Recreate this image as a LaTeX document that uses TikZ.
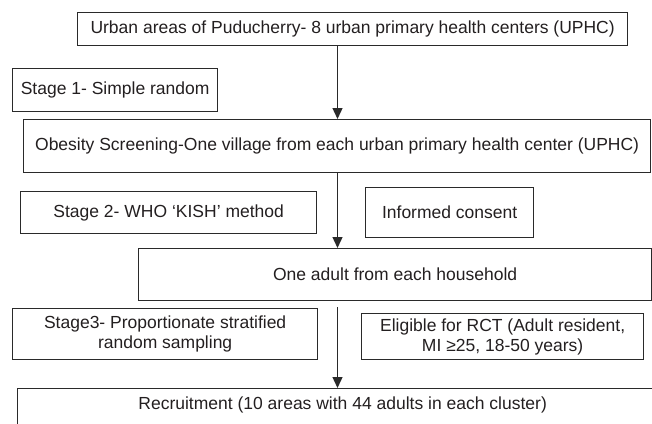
\documentclass[tikz,border=0pt]{standalone}
\usepackage{fontspec}
\setmainfont{Liberation Sans}
\usepackage{tikz}
\usetikzlibrary{arrows.meta}

\definecolor{boxgray}{HTML}{2A2A2A}
\definecolor{textgray}{HTML}{231F20}

\tikzset{
  flowbox/.style={draw=boxgray, line width=1.3pt, inner sep=0pt, align=center,
    anchor=north west, text=textgray, font=\fontsize{17.5}{20}\selectfont},
  flowarrow/.style={draw=boxgray, line width=1.3pt, -{Triangle[length=11pt,width=10pt]}}
}

\begin{document}
\begin{tikzpicture}[x=1pt,y=-1pt]
  \clip (0,0) rectangle (652,423);
  \node [flowbox, minimum width=550pt, minimum height=33pt] (urban) at (77,12) {Urban areas of Puducherry- 8 urban primary health centers (UPHC)};
  \node [flowbox, minimum width=205pt, minimum height=43pt] (stage1) at (12,68) {Stage 1- Simple random};
  \node [flowbox, minimum width=627pt, minimum height=53pt] (obesity) at (23,119) {Obesity Screening-One village from each urban primary health center (UPHC)};
  \node [flowbox, minimum width=296pt, minimum height=42pt] (stage2) at (20,191) {Stage 2- WHO ‘KISH’ method};
  \node [flowbox, minimum width=168pt, minimum height=50pt] (consent) at (365,187) {Informed consent};
  \node [flowbox, minimum width=513pt, minimum height=52pt] (adult) at (138,248) {One adult from each household};
  \node [flowbox, minimum width=305pt, minimum height=51pt] (stage3) at (12,308) {Stage3- Proportionate stratified\\random sampling};
  \node [flowbox, minimum width=282pt, minimum height=46pt] (eligible) at (361,313) {Eligible for RCT (Adult resident,\\MI ≥25, 18-50 years)};
  \node [flowbox, minimum width=650pt, text height=21pt, text depth=30pt] (recruit) at (17,388) {Recruitment (10 areas with 44 adults in each cluster)};
  \coordinate (spine) at (337.5,0);
  \draw [flowarrow] (urban.south -| spine) -- (obesity.north -| spine);
  \draw [flowarrow] (obesity.south -| spine) -- (adult.north -| spine);
  \draw [flowarrow, shorten <=6pt] (adult.south -| spine) -- (recruit.north -| spine);
\end{tikzpicture}
\end{document}
